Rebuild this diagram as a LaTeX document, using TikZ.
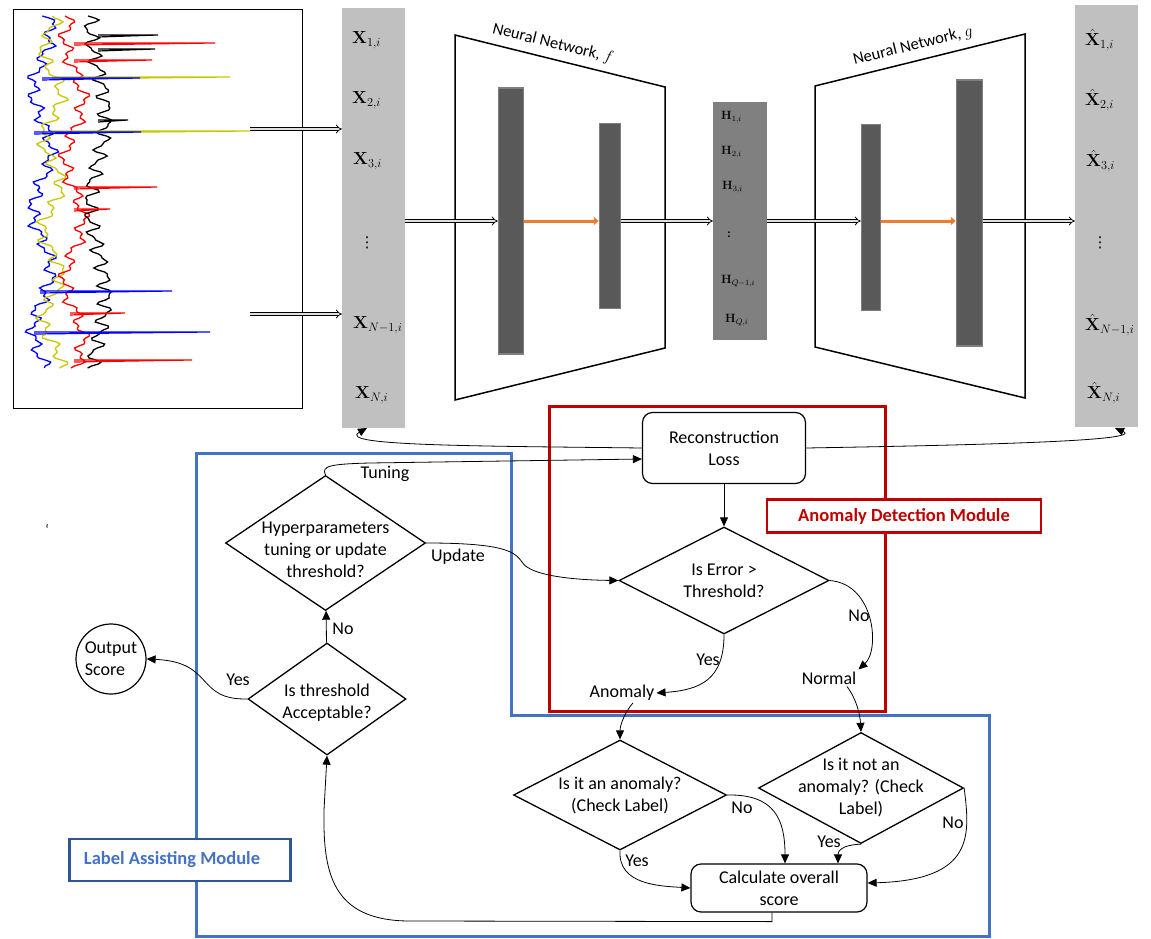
\RequirePackage{fix-cm}
\documentclass[tikz,border=0pt]{standalone}
\usepackage[no-math]{fontspec}
\setmainfont{Carlito}
\newfontfamily\symfont{DejaVu Sans}
\usepackage{amsmath}
\usetikzlibrary{shapes.geometric,arrows.meta,calc}

\definecolor{colgray}{HTML}{C0C0C0}
\definecolor{hgray}{HTML}{808080}
\definecolor{bargray}{HTML}{595959}
\definecolor{barrim}{HTML}{7F7F7F}
\definecolor{nnorange}{HTML}{ED7D31}
\definecolor{admred}{HTML}{C00000}
\definecolor{lamblue}{HTML}{4472C4}
\definecolor{lamdark}{HTML}{2F5597}
\definecolor{sigyellow}{HTML}{C8C800}

\newcommand{\flowfont}{\fontsize{18}{22}\selectfont}
\newcommand{\vecfont}{\fontsize{17.5}{20}\selectfont}
\newcommand{\latfont}{\fontsize{12}{14}\selectfont}
\newcommand{\netfont}{\fontsize{16.5}{18}\selectfont}
\newcommand{\modfont}{\fontsize{18.5}{20}\selectfont\bfseries}

\begin{document}
\begin{tikzpicture}[x=1pt,y=-1pt]
  \tikzset{
    decision/.style={diamond, draw, line width=1.3pt, inner sep=-10pt, align=center, font=\flowfont},
    process/.style={rectangle, rounded corners=10pt, draw, line width=1.2pt, align=center, font=\flowfont},
    tag/.style={font=\flowfont, inner sep=2pt},
    conn/.style={line width=0.8pt, -{Triangle[length=9pt,width=8pt]}},
    feed/.style={double=gray!25, double distance=2.2pt, line width=0.8pt, -{Implies}},
    flow/.style={nnorange, line width=3pt, -{Triangle[length=5pt,width=8pt]}},
    column/.style={fill=colgray, inner sep=0pt},
    bar/.style={fill=bargray, draw=barrim, line width=1.5pt, inner sep=0pt},
    veclbl/.style={anchor=west, font=\vecfont, inner sep=0pt},
    latlbl/.style={anchor=west, font=\latfont, inner sep=0pt},
    netlbl/.style={font=\netfont, inner sep=0pt},
    modtag/.style={draw, fill=white, line width=2.5pt, font=\modfont, inner sep=0pt}
  }
  \useasboundingbox (0,0) rectangle (1151,939);

  % input signals
  \draw[line width=0.8pt] (13,9) rectangle (302,408);
  \draw[blue, line width=1.3pt] plot[variable=\t, domain=16:368, samples=177]
    ({42+9*sin(3*\t)+5*sin(17*\t+40)+3*sin(41*\t)}, \t);
  \draw[sigyellow, line width=1.3pt] plot[variable=\t, domain=16:368, samples=177]
    ({52+9*sin(4*\t+70)+5*sin(19*\t+10)+3*sin(37*\t)}, \t);
  \draw[red, line width=1.3pt] plot[variable=\t, domain=16:368, samples=177]
    ({74+9*sin(3*\t+150)+5*sin(15*\t+80)+3*sin(39*\t)}, \t);
  \draw[black, line width=1.3pt] plot[variable=\t, domain=16:368, samples=177]
    ({98+8*sin(2*\t+220)+6*sin(21*\t+30)+3*sin(40*\t)}, \t);
  \foreach \c/\y/\s/\e in {black/35/98/158, red/43/74/215, black/49/98/155, red/60/74/152,
      sigyellow/77/52/230, blue/78/42/140, black/120/98/128, sigyellow/131/50/250,
      blue/132/34/141, red/187/74/157, red/209/74/110, blue/291/40/172,
      red/313/70/125, blue/332/34/210, red/360/74/192}
    \draw[\c, line width=1.2pt] (\s,\y) -- (\e,\y) -- (\s,\y+2);
  \coordinate (sig3) at (250,129);
  \coordinate (sig9) at (250,314);

  % input vector
  \node[column, minimum width=63pt, minimum height=420pt] (xin) at (373.5,218) {};
  \node[veclbl] (x1) at (352,40)  {$\mathbf{X}_{1,i}$};
  \node[veclbl] (x2) at (352,100) {$\mathbf{X}_{2,i}$};
  \node[veclbl] (x3) at (353,161) {$\mathbf{X}_{3,i}$};
  \node[font=\fontsize{15}{18}\symfont, inner sep=0pt] (xdots) at (367,243) {⋮};
  \node[veclbl] (xn1) at (353,325) {$\mathbf{X}_{N-1,i}$};
  \node[veclbl] (xn) at (355,395) {$\mathbf{X}_{N,i}$};
  \coordinate (xinfoot) at (367,428);

  % encoder f
  \draw[line width=1.5pt] (455,35) -- (665,87) -- (665,348) -- (455,400) -- cycle;
  \node[netlbl, rotate=-13.9] (nnf) at (553,44) {Neural Network, $f$};
  \node[bar, minimum width=25pt, minimum height=266pt] (bar1) at (511,221) {};
  \node[bar, minimum width=21pt, minimum height=185pt] (bar2) at (610,216) {};

  % latent vector
  \node[column, fill=hgray, minimum width=54pt, minimum height=238pt] (hcol) at (740,221) {};
  \node[latlbl] (h1) at (721,117) {$\mathbf{H}_{1,i}$};
  \node[latlbl] (h2) at (721,152) {$\mathbf{H}_{2,i}$};
  \node[latlbl] (h3) at (722,187) {$\mathbf{H}_{3,i}$};
  \node[font=\latfont\bfseries] (hdots) at (729,235) {:};
  \node[latlbl] (hq1) at (721,281) {$\mathbf{H}_{Q-1,i}$};
  \node[latlbl] (hq) at (725,320) {$\mathbf{H}_{Q,i}$};

  % decoder g
  \draw[line width=1.5pt] (815,86) -- (1025,34) -- (1025,398) -- (815,347) -- cycle;
  \node[netlbl, rotate=13.9] (nng) at (913,46) {Neural Network, $g$};
  \node[bar, minimum width=19pt, minimum height=186pt] (bar3) at (871,217.5) {};
  \node[bar, minimum width=26pt, minimum height=266pt] (bar4) at (969.5,213) {};

  % output vector
  \node[column, minimum width=63pt, minimum height=422pt] (xout) at (1106.5,216) {};
  \node[veclbl] (y1) at (1085,40)  {$\hat{\mathbf{X}}_{1,i}$};
  \node[veclbl] (y2) at (1085,100) {$\hat{\mathbf{X}}_{2,i}$};
  \node[veclbl] (y3) at (1086,161) {$\hat{\mathbf{X}}_{3,i}$};
  \node[font=\fontsize{15}{18}\symfont, inner sep=0pt] (ydots) at (1100,243) {⋮};
  \node[veclbl] (yn1) at (1085,325) {$\hat{\mathbf{X}}_{N-1,i}$};
  \node[veclbl] (yn) at (1087,393) {$\hat{\mathbf{X}}_{N,i}$};
  \coordinate (xoutfoot) at (1115,428);

  \draw[feed] (sig3) -- (xin.west |- sig3);
  \draw[feed] (sig9) -- (xin.west |- sig9);
  \draw[feed] (xin.east |- bar1.west) -- (bar1.west);
  \draw[flow] (bar1.east) -- (bar1.east -| bar2.west);
  \draw[feed] (bar2.east |- hcol.west) -- (hcol.west);
  \draw[feed] (hcol.east) -- (hcol.east -| bar3.west);
  \draw[flow] (bar3.east |- bar1.east) -- (bar4.west |- bar1.east);
  \draw[feed] (bar4.east |- hcol.east) -- (xout.west |- hcol.east);

  % module frames
  \draw[admred, line width=3pt] (549,406) rectangle (885,711);
  \draw[lamblue, line width=3pt] (196,453) -- (511,453) -- (511,715) -- (989,715)
    -- (989,936) -- (196,936) -- cycle;
  \node[modtag, draw=admred, text=admred, minimum width=274pt, minimum height=33pt] (admtag) at (904,516) {Anomaly Detection Module};
  \node[modtag, draw=lamdark, text=lamblue, minimum width=221pt, minimum height=42pt] (lamtag) at (180,860) {\hspace{-16pt}Label Assisting Module};

  % flowchart
  \node[process, minimum width=163pt, minimum height=71pt] (recloss) at (724,448) {Reconstruction\\Loss};
  \node[decision, shape aspect=2, minimum width=210pt, minimum height=107pt] (err) at (724,580.5) {Is Error >\\Threshold?};
  \node[tag] (anom) at (622,693) {Anomaly};
  \node[tag] (normal) at (829,678) {Normal};
  \node[decision, shape aspect=1.9, minimum width=213pt, minimum height=110pt] (ia) at (620,795) {Is it an anomaly?\\(Check Label)};
  \node[decision, shape aspect=1.85, minimum width=205pt, minimum height=111pt] (ina) at (861,788) {Is it not an\\anomaly? (Check\\Label)};
  \node[process, minimum width=176pt, minimum height=48pt] (calc) at (779,888) {Calculate overall\\score};
  \node[decision, shape aspect=1.4, minimum width=158pt, minimum height=112pt] (thr) at (327,699) {\rule{0pt}{20pt}Is threshold\\Acceptable?};
  \node[decision, shape aspect=1.5, minimum width=200pt, minimum height=135pt] (hyp) at (325.5,543) {\rule{0pt}{26pt}Hyperparameters\\tuning or update\\threshold?};
  \node[circle, draw, line width=1.2pt, minimum size=70pt, inner sep=0pt, align=left, font=\flowfont] (outsc) at (111,659) {Output\\Score};
  \node[font=\fontsize{14}{16}\selectfont] (tick) at (47,529) {‘};

  \node[tag] (ltuning) at (385,474) {Tuning};
  \node[tag] (lupdate) at (458,557) {Update};
  \node[tag] (lerryes) at (708,660) {Yes};
  \node[tag] (lerrno) at (859,616) {No};
  \node[tag] (liano) at (742,808) {No};
  \node[tag] (liayes) at (637,861) {Yes};
  \node[tag] (linayes) at (829,842) {Yes};
  \node[tag] (linano) at (953,823) {No};
  \node[tag] (lthrno) at (343,629) {No};
  \node[tag] (lthryes) at (238,680) {Yes};

  \path[conn]
    (recloss) edge (err)
    (thr) edge (hyp);

  \draw[conn] (recloss.west) .. controls (480,446) and (335,446) .. (xinfoot);
  \draw[conn] (recloss.east) .. controls (980,445) and (1145,441) .. (xoutfoot);
  \draw[conn] (hyp.north) .. controls (321,466) and (330,464) .. (370,463) -- ($(recloss.west)+(0,11)$);
  \draw[conn] (hyp.east) .. controls (505,543) and (515,552) .. (522,562)
    .. controls (530,576) and (575,580) .. (err.west);
  \draw[conn] (err.south) .. controls (724,680) and (700,690) .. (anom.east);
  \draw[conn] (err.east) .. controls (875,584) and (880,650) .. (normal.north east);
  \draw[conn] ($(anom.south)+(11,0)$) .. controls (625,712) and (620,725) .. (ia.north);
  \draw[conn] ($(normal.south)+(18,0)$) .. controls (857,700) and (860,715) .. (ina.north);
  \draw[conn] (ia.east) .. controls (775,794) and (785,820) .. ($(calc.north)+(6,0)$);
  \draw[conn] (ia.south) .. controls (618,885) and (660,886) .. (calc.west);
  \draw[conn] (ina.south) .. controls (840,845) and (838,852) .. ($(calc.north)+(59,0)$);
  \draw[conn] (ina.east) .. controls (970,835) and (975,880) .. ($(calc.east)+(0,-5)$);
  \draw[conn] ($(calc.south)+(-7,0)$) -- ++(0,9) -- (410,921)
    .. controls (330,921) and (323,870) .. (324,810) -- (thr.south);
  \draw[conn] (thr.west) .. controls (195,700) and (215,662) .. (outsc.east);
\end{tikzpicture}
\end{document}
